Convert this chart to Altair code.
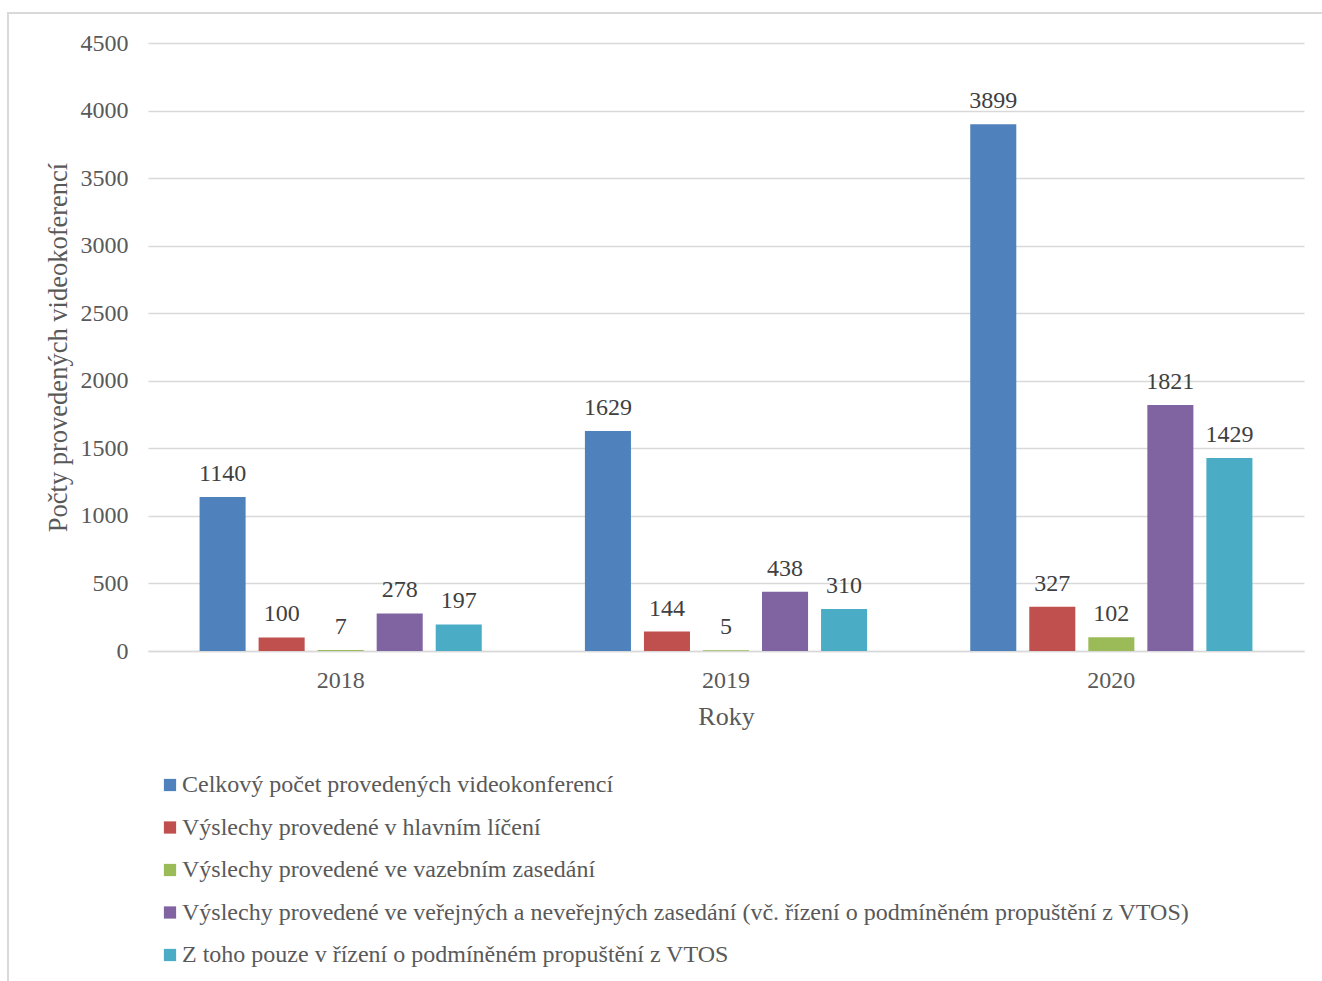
import altair as alt
import pandas as pd

years = ["2018", "2019", "2020"]
series = [
    "Celkový počet provedených videokonferencí",
    "Výslechy provedené v hlavním líčení",
    "Výslechy provedené ve vazebním zasedání",
    "Výslechy provedené ve veřejných a neveřejných zasedání (vč. řízení o podmíněném propuštění z VTOS)",
    "Z toho pouze v řízení o podmíněném propuštění z VTOS",
]
values = {
    series[0]: [1140, 1629, 3899],
    series[1]: [100, 144, 327],
    series[2]: [7, 5, 102],
    series[3]: [278, 438, 1821],
    series[4]: [197, 310, 1429],
}
colors = ["#4F81BD", "#C0504D", "#9BBB59", "#8064A2", "#4BACC6"]

rows = []
for si, s in enumerate(series):
    for yi, y in enumerate(years):
        rows.append({"Rok": y, "Serie": s, "Hodnota": values[s][yi], "order": si})
df = pd.DataFrame(rows)

FONT = "Liberation Serif"
W, H = 1156, 608

base = alt.Chart(df)

x_enc = alt.X("Rok:N", title="Roky", sort=years,
              scale=alt.Scale(paddingInner=0.234, paddingOuter=0.117),
              axis=alt.Axis(labelAngle=0, labelFontSize=24, labelColor="#595959",
                            labelFont=FONT, titleFont=FONT, titleFontSize=26,
                            titleColor="#595959", titleFontWeight="normal",
                            ticks=False, domainColor="#D9D9D9", domainWidth=1.5,
                            labelPadding=17, titlePadding=11, grid=False))
xoff = alt.XOffset("Serie:N", sort=series,
                   scale=alt.Scale(paddingInner=0.22, paddingOuter=0.11))

bars = base.mark_bar().encode(
    x=x_enc,
    xOffset=xoff,
    y=alt.Y("Hodnota:Q", title="Počty provedených videokoferencí",
            scale=alt.Scale(domain=[0, 4500], nice=False),
            axis=alt.Axis(values=list(range(0, 4501, 500)), format="d",
                          labelFontSize=24,
                          labelColor="#595959", labelFont=FONT, titleFont=FONT,
                          titleFontSize=26.5, titleColor="#595959",
                          titleFontWeight="normal", ticks=False, domain=False,
                          gridColor="#D9D9D9", gridWidth=1.5, labelPadding=20,
                          titlePadding=8)),
    color=alt.Color("Serie:N", sort=series,
                    scale=alt.Scale(domain=series, range=colors),
                    legend=alt.Legend(title=None, orient="none", direction="vertical",
                                      legendX=10, legendY=730, symbolType="square",
                                      symbolSize=150, symbolStrokeWidth=0,
                                      labelFont=FONT, labelFontSize=24,
                                      labelColor="#595959", labelLimit=1200,
                                      rowPadding=18.5, labelOffset=0)),
)

labels = base.mark_text(baseline="bottom", dy=-11, font=FONT, fontSize=24,
                        color="#404040").encode(
    x=alt.X("Rok:N", sort=years),
    xOffset=xoff,
    y="Hodnota:Q",
    text="Hodnota:Q",
)

border = alt.Chart(pd.DataFrame({"a": [0]})).mark_rect(
    fill=None, stroke="#D9D9D9", strokeWidth=2).encode(
    x=alt.value(-140), x2=alt.value(W + 300),
    y=alt.value(-30), y2=alt.value(H + 600),
)

chart = alt.layer(border, bars, labels).properties(
    width=W, height=H,
    autosize=alt.AutoSizeParams(type="none"),
    padding={"left": 148, "top": 43, "right": 18, "bottom": 330},
).configure(background="white").configure_view(stroke=None)

chart.save("out.html", embed_options={"renderer": "svg", "actions": False})
